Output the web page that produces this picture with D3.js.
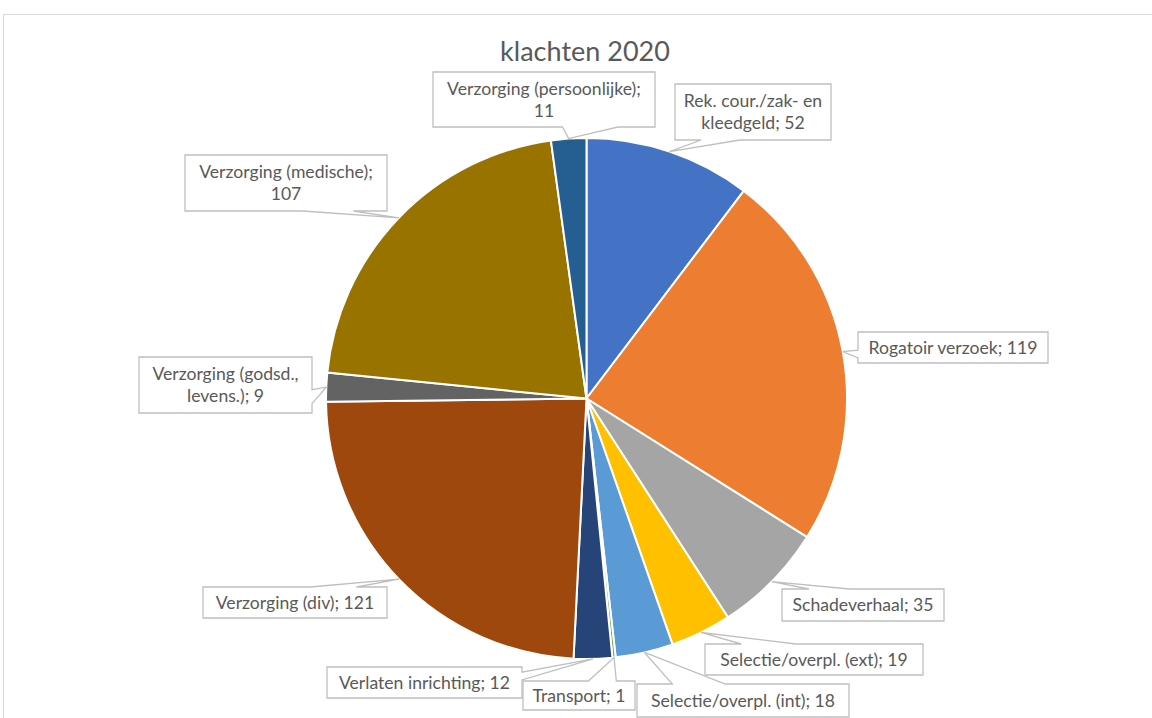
<!DOCTYPE html>
<html>
<head>
<meta charset="utf-8">
<script src="https://cdn.jsdelivr.net/npm/d3@7"></script>
<style>
  body { margin: 0; background: #fff; }
  text { font-family: Lato, "Liberation Sans", sans-serif; fill: #595959; }
</style>
</head>
<body>
<div class="center"></div>
<script>
// data
var categories = ["Rek. cour./zak- en kleedgeld", "Rogatoir verzoek", "Schadeverhaal",
    "Selectie/overpl. (ext)", "Selectie/overpl. (int)", "Transport", "Verlaten inrichting",
    "Verzorging (div)", "Verzorging (godsd., levens.)", "Verzorging (medische)",
    "Verzorging (persoonlijke)"];
var values = [52, 119, 35, 19, 18, 1, 12, 121, 9, 107, 11];
var colors = ["#4472C4", "#ED7D31", "#A5A5A5", "#FFC000", "#5B9BD5", "#70AD47",
    "#264478", "#9E480E", "#636363", "#997300", "#255E91"];

// callout boxes (placed by hand, like the excel chart), with optional line break
var callouts = [
    {x: 675, y: 84, w: 156, h: 56, br: "en "},
    {x: 858, y: 332, w: 190, h: 31},
    {x: 782, y: 589, w: 162, h: 32},
    {x: 705, y: 644, w: 218, h: 31},
    {x: 637, y: 684, w: 212, h: 33},
    {x: 523, y: 681, w: 112, h: 29},
    {x: 327, y: 667, w: 195, h: 31},
    {x: 203, y: 587, w: 184, h: 31},
    {x: 139, y: 357, w: 173, h: 56, br: "godsd., "},
    {x: 185, y: 155, w: 202, h: 56, br: "; "},
    {x: 433, y: 72, w: 222, h: 55, br: "; "}
];

var width = 1152, height = 718;
var cx = 586.5, cy = 398.5, radius = 260.5;

var svg = d3.select(".center").append("svg")
    .attr("width", width)
    .attr("height", height);

// chart frame
svg.append("rect")
    .attr("x", 3.5).attr("y", 14.5)
    .attr("width", 1300).attr("height", 900)
    .style("fill", "none")
    .style("stroke", "#D9D9D9");

svg.append("text")
    .attr("x", 585)
    .attr("y", 61)
    .attr("text-anchor", "middle")
    .style("font-size", "27px")
    .text("klachten 2020");

var pie = d3.pie().sort(null).value(function(d) { return d; });
var arcs = pie(values);
var arc = d3.arc().innerRadius(0).outerRadius(radius);

var g = svg.append("g")
    .attr("transform", "translate(" + cx + "," + cy + ")");

g.selectAll("path")
    .data(arcs)
    .enter().append("path")
    .attr("d", arc)
    .style("fill", function(d, i) { return colors[i]; })
    .style("stroke", "#fff")
    .style("stroke-width", 2);

// excel style wedgeRectCallout: box with a wedge pointing at the tip
function calloutPath(b, px, py) {
    var l = b.x, t = b.y, r = b.x + b.w, bt = b.y + b.h;
    var w = b.w, h = b.h;
    var dxPos = px - (l + w / 2), dyPos = py - (t + h / 2);
    var dz = Math.abs(dyPos) - Math.abs(dxPos * h / w);
    var x1 = l + w * (dxPos > 0 ? 7 : 2) / 12, x2 = l + w * (dxPos > 0 ? 10 : 5) / 12;
    var y1 = t + h * (dyPos > 0 ? 7 : 2) / 12, y2 = t + h * (dyPos > 0 ? 10 : 5) / 12;
    var xl = dz > 0 ? l : (dxPos > 0 ? l : px), yl = dz > 0 ? y1 : (dxPos > 0 ? y1 : py);
    var xt = dz > 0 ? (dyPos > 0 ? x1 : px) : x1, yt = dz > 0 ? (dyPos > 0 ? t : py) : t;
    var xr = dz > 0 ? r : (dxPos > 0 ? px : r), yr = dz > 0 ? y1 : (dxPos > 0 ? py : y1);
    var xb = dz > 0 ? (dyPos > 0 ? px : x1) : x1, yb = dz > 0 ? (dyPos > 0 ? py : bt) : bt;
    var p = d3.path();
    p.moveTo(l, t);
    p.lineTo(x1, t); p.lineTo(xt, yt); p.lineTo(x2, t); p.lineTo(r, t);
    p.lineTo(r, y1); p.lineTo(xr, yr); p.lineTo(r, y2); p.lineTo(r, bt);
    p.lineTo(x2, bt); p.lineTo(xb, yb); p.lineTo(x1, bt); p.lineTo(l, bt);
    p.lineTo(l, y2); p.lineTo(xl, yl); p.lineTo(l, y1);
    p.closePath();
    return p.toString();
}

var labels = svg.append("g");

arcs.forEach(function(d, i) {
    var b = callouts[i];
    var mid = (d.startAngle + d.endAngle) / 2;
    var px = cx + radius * Math.sin(mid), py = cy - radius * Math.cos(mid);

    labels.append("path")
        .attr("d", calloutPath(b, px, py))
        .style("fill", "#fff")
        .style("stroke", "#BFBFBF")
        .style("stroke-width", 1.3);

    var label = categories[i] + "; " + values[i];
    var lines = [label];
    if (b.br) {
        var k = label.indexOf(b.br) + b.br.length;
        lines = [label.slice(0, k).trim(), label.slice(k)];
    }
    var lh = 22;
    lines.forEach(function(s, j) {
        labels.append("text")
            .attr("x", b.x + b.w / 2)
            .attr("y", b.y + b.h / 2 + (j - (lines.length - 1) / 2) * lh)
            .attr("dy", "0.35em")
            .attr("text-anchor", "middle")
            .style("font-size", "17.6px")
            .text(s);
    });
});
</script>
</body>
</html>
